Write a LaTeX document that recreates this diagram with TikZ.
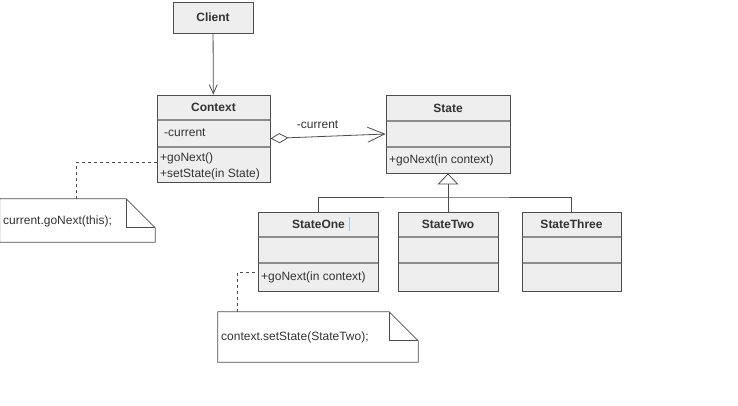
\documentclass[tikz,border=0pt]{standalone}
\usepackage{fontspec}
\setmainfont{Liberation Sans}
\usetikzlibrary{arrows.meta}
\definecolor{boxfill}{HTML}{EEEEEE}
\definecolor{boxline}{HTML}{4D4D4D}
\definecolor{sepline}{HTML}{8C8C8C}
\definecolor{txt}{HTML}{333333}
\definecolor{cursor}{HTML}{99C9F2}

\begin{document}
\begin{tikzpicture}[x=1pt, y=-1pt, font=\fontsize{12}{14}\selectfont, text=txt,
  cls/.style={draw=boxline, fill=boxfill, line width=0.9pt, inner sep=0pt},
  sep/.style={draw=sepline, line width=1.6pt},
  note/.style={inner sep=0pt},
  lbl/.style={inner sep=0pt, anchor=west},
  ttl/.style={inner sep=0pt, font=\fontsize{12}{14}\selectfont\bfseries},
  link/.style={draw=boxline, line width=0.8pt}]
\fill[white] (0,0) rectangle (738,406);
\useasboundingbox (0,0) rectangle (738,406);

\node[cls, minimum width=80pt, minimum height=31pt] (client) at (213,17.5) {\bfseries Client};

\node[cls, minimum width=113pt, minimum height=87pt] (context) at (213.5,138.5) {};
\draw[sep] (157.5,120) -- (269.5,120);
\draw[sep] (157.5,147) -- (269.5,147);
\node[ttl] (contexttitle) at (213.5,107.5) {Context};
\node[lbl] (contextattr) at (164,133) {-current};
\node[lbl] (contextop1) at (160,158.5) {+goNext()};
\node[lbl] (contextop2) at (160,174) {+setState(in State)};

\node[cls, minimum width=124pt, minimum height=78pt] (state) at (448,134) {};
\draw[sep] (386.5,121) -- (509.5,121);
\draw[sep] (386.5,147) -- (509.5,147);
\node[ttl] (statetitle) at (448,108) {State};
\node[lbl] (stateop) at (389,160) {+goNext(in context)};

\node[cls, minimum width=120pt, minimum height=79pt] (stateone) at (318,251.5) {};
\draw[sep] (258.5,237) -- (377.5,237);
\draw[sep] (258.5,263) -- (377.5,263);
\node[ttl] (stateonetitle) at (318.5,224) {StateOne};
\draw[cursor, line width=1pt] (349,217) -- (349,231);
\node[lbl] (stateoneop) at (261,277.5) {+goNext(in context)};

\node[cls, minimum width=100pt, minimum height=79pt] (statetwo) at (448,251.5) {};
\draw[sep] (398.5,237) -- (497.5,237);
\draw[sep] (398.5,263) -- (497.5,263);
\node[ttl] (statetwotitle) at (448,224) {StateTwo};

\node[cls, minimum width=99pt, minimum height=79pt] (statethree) at (571.5,251.5) {};
\draw[sep] (522.5,237) -- (620.5,237);
\draw[sep] (522.5,263) -- (620.5,263);
\node[ttl] (statethreetitle) at (571.5,224) {StateThree};

\node[note, minimum width=155pt, minimum height=43pt] (note1) at (77.5,220.5) {};
\draw[link, fill=white] (note1.north west) -- ([xshift=-29pt]note1.north east) -- ([yshift=-29pt]note1.north east) -- (note1.south east) -- (note1.south west) -- cycle;
\draw[link] ([xshift=-29pt]note1.north east) -- ([xshift=-29pt,yshift=-29pt]note1.north east) -- ([yshift=-29pt]note1.north east);
\node[lbl] (note1text) at (3,221) {current.goNext(this);};

\node[note, minimum width=200pt, minimum height=50pt] (note2) at (318,337) {};
\draw[link, fill=white] (note2.north west) -- ([xshift=-29pt]note2.north east) -- ([yshift=-29pt]note2.north east) -- (note2.south east) -- (note2.south west) -- cycle;
\draw[link] ([xshift=-29pt]note2.north east) -- ([xshift=-29pt,yshift=-29pt]note2.north east) -- ([yshift=-29pt]note2.north east);
\node[lbl] (note2text) at (221,337) {context.setState(StateTwo);};

\draw[link, -{Straight Barb[length=9pt,width=8pt]}] (client) -- (context);
\draw[link, {Diamond[open,length=18pt,width=10pt]}-{Straight Barb[length=17pt,width=15pt]}] (context.east) -- (state.west) node[pos=0.41, above=8pt, inner sep=0pt] {-current};

\coordinate (bus) at (448,197);
\draw[link, -{Triangle[open,length=11pt,width=21pt]}] (bus) -- (state.south);
\draw[link] (stateone.north) |- (bus) -| (statethree.north);
\draw[link] (statetwo.north) -- (bus);

\draw[link, dashed, dash pattern=on 3pt off 3pt] ([xshift=77pt]note1.north west) |- ([yshift=-23.5pt]context.west);
\draw[link, dashed, dash pattern=on 3pt off 3pt] ([xshift=20pt]note2.north west) |- ([yshift=-20.5pt]stateone.west);
\end{tikzpicture}
\end{document}
